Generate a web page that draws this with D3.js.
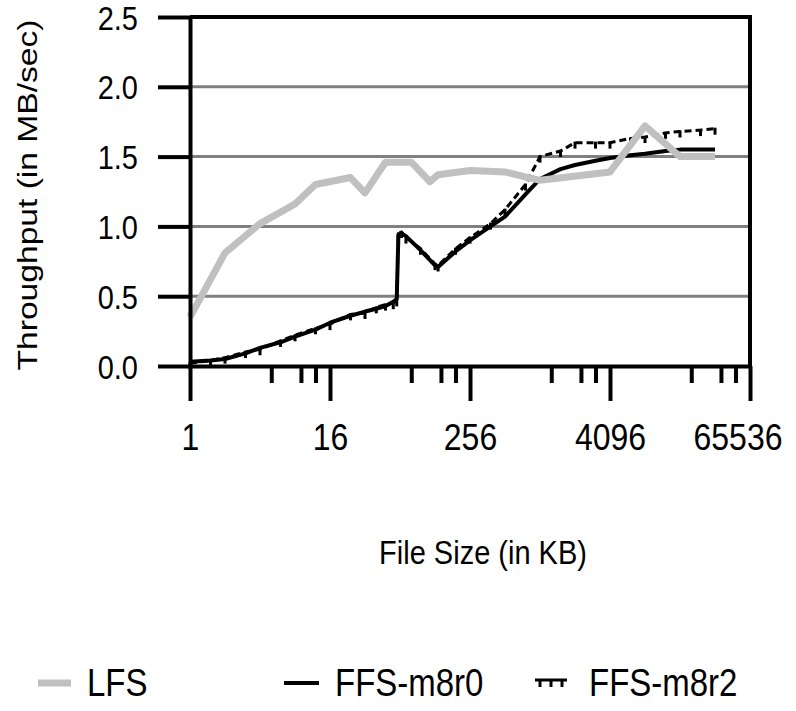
<!DOCTYPE html>
<html>
<head>
<meta charset="utf-8">
<script src="https://cdn.jsdelivr.net/npm/d3@7"></script>
<style>
body { margin: 0; background: #fff; }
text { font-family: "Liberation Sans", Arial, sans-serif; fill: #000; }
</style>
</head>
<body>
<div id="chart"></div>
<script>
// file sizes are in KB, throughput in MB/sec
const lfsSizes  = [1, 2, 4, 8, 12, 24, 32, 48, 80, 116, 136, 256, 512, 1024, 4096, 8192, 16384, 32768];
const lfsValues = [0.35, 0.81, 1.02, 1.16, 1.30, 1.35, 1.24, 1.46, 1.46, 1.32, 1.37, 1.40, 1.39, 1.33, 1.39, 1.72, 1.50, 1.50];

const ffsSizes   = [1, 1.5, 2, 3, 4, 6, 8, 12, 16, 24, 32, 40, 48, 56, 60, 62, 66, 72, 96, 128, 136, 192, 256, 384, 512, 768, 1024, 1536, 2048, 3072, 4096, 6144, 8192, 12288, 16384, 24576, 32768];
const m8r0Values = [0.03, 0.04, 0.05, 0.09, 0.13, 0.17, 0.21, 0.26, 0.31, 0.36, 0.39, 0.41, 0.43, 0.46, 0.48, 0.94, 0.95, 0.93, 0.83, 0.72, 0.71, 0.82, 0.90, 1.00, 1.07, 1.23, 1.34, 1.41, 1.44, 1.47, 1.49, 1.51, 1.52, 1.54, 1.55, 1.55, 1.55];
const m8r2Values = [0.02, 0.04, 0.06, 0.10, 0.12, 0.18, 0.22, 0.27, 0.30, 0.37, 0.38, 0.42, 0.44, 0.45, 0.47, 0.95, 0.96, 0.92, 0.84, 0.73, 0.72, 0.84, 0.92, 1.02, 1.12, 1.30, 1.50, 1.54, 1.60, 1.60, 1.60, 1.63, 1.64, 1.67, 1.68, 1.69, 1.70];

const yTicks = [0, 0.5, 1.0, 1.5, 2.0, 2.5];
const xMajorTicks = [1, 16, 256, 4096, 65536];
const xMinorTicks = [5, 9, 12, 80, 144, 192, 1280, 2304, 3072, 20480, 36864, 49152];
const legendNames = ["LFS", "FFS-m8r0", "FFS-m8r2"];

class LineChart {

	constructor() {
		this.margin = {top: 17, left: 190};
		this.width = 560;
		this.height = 349;
		this.stretch = 1.15; // the source picture's text is taller than it is wide
		this.initVis();
	}

	initVis() {
		let vis = this;

		vis.svg = d3.select("#chart").append("svg")
			.attr("width", 796)
			.attr("height", 711);

		vis.g = vis.svg.append("g")
			.attr("transform", `translate(${vis.margin.left},${vis.margin.top})`);

		vis.xScale = d3.scaleLog().base(2)
			.domain([1, 65536])
			.range([0, vis.width]);

		vis.yScale = d3.scaleLinear()
			.domain([0, 2.5])
			.range([vis.height, 0]);

		// gray gridlines
		vis.g.selectAll(".grid")
			.data(yTicks.filter(d => d > 0 && d < 2.5))
			.join("line")
			.attr("class", "grid")
			.attr("x1", 0).attr("x2", vis.width)
			.attr("y1", d => vis.yScale(d)).attr("y2", d => vis.yScale(d))
			.attr("stroke", "#808080")
			.attr("stroke-width", 3);

		// top and right border
		vis.g.append("path")
			.attr("d", `M0,0H${vis.width}V${vis.height}`)
			.attr("fill", "none")
			.attr("stroke", "#000")
			.attr("stroke-width", 4);

		vis.renderVis();
		vis.drawAxes();
		vis.drawLegend();
	}

	renderVis() {
		let vis = this;

		let line = d3.line()
			.x(d => vis.xScale(d[0]))
			.y(d => vis.yScale(d[1]));

		let m8r0 = d3.zip(ffsSizes, m8r0Values);
		let m8r2 = d3.zip(ffsSizes, m8r2Values);
		let lfs = d3.zip(lfsSizes, lfsValues);

		vis.g.append("path")
			.datum(m8r0)
			.attr("fill", "none")
			.attr("stroke", "#000")
			.attr("stroke-width", 4)
			.attr("stroke-linejoin", "round")
			.attr("d", line);

		vis.g.append("path")
			.datum(m8r2)
			.attr("fill", "none")
			.attr("stroke", "#000")
			.attr("stroke-width", 3)
			.attr("stroke-dasharray", "7,4")
			.attr("d", line);

		// little comb ticks of the m8r2 line style
		vis.g.selectAll(".comb")
			.data(m8r2)
			.join("line")
			.attr("class", "comb")
			.attr("x1", d => vis.xScale(d[0])).attr("x2", d => vis.xScale(d[0]))
			.attr("y1", d => vis.yScale(d[1]) - 1).attr("y2", d => vis.yScale(d[1]) + 6)
			.attr("stroke", "#000")
			.attr("stroke-width", 3);

		vis.g.append("path")
			.datum(lfs)
			.attr("fill", "none")
			.attr("stroke", "#c0c0c0")
			.attr("stroke-width", 7)
			.attr("stroke-linejoin", "round")
			.attr("d", line);
	}

	drawAxes() {
		let vis = this;

		vis.xAxisG = vis.g.append("g")
			.attr("transform", `translate(0,${vis.height})`)
			.call(d3.axisBottom(vis.xScale)
				.tickValues(xMajorTicks)
				.tickSize(35)
				.tickSizeOuter(0)
				.tickFormat(d3.format("d")));

		vis.xMinorG = vis.g.append("g")
			.attr("transform", `translate(0,${vis.height})`)
			.call(d3.axisBottom(vis.xScale)
				.tickValues(xMinorTicks)
				.tickSize(17)
				.tickFormat(""));
		vis.xMinorG.select(".domain").remove();

		vis.yAxisG = vis.g.append("g")
			.call(d3.axisLeft(vis.yScale)
				.tickValues(yTicks)
				.tickSize(32)
				.tickSizeOuter(0)
				.tickFormat(d3.format(".1f")));

		vis.g.selectAll(".domain, .tick line")
			.attr("stroke", "#000")
			.attr("stroke-width", 4);

		vis.xAxisG.selectAll("text")
			.attr("y", null).attr("dy", null)
			.attr("font-size", 32)
			.attr("transform", `translate(0,84) scale(1,${vis.stretch})`);

		// keep the last label inside the picture, like the source does
		vis.xAxisG.selectAll("text").each(function() {
			let box = this.getBBox();
			let tickX = vis.margin.left + vis.xScale(d3.select(this.parentNode).datum());
			let over = tickX + box.width / 2 - 782;
			if (over > 0) d3.select(this).attr("x", -over);
		});

		vis.yAxisG.selectAll("text")
			.attr("x", null).attr("dy", null)
			.attr("font-size", 29)
			.attr("transform", `translate(-52,12) scale(1,${vis.stretch})`);

		vis.g.selectAll(".tick text").attr("font-family", "Liberation Sans, Arial, sans-serif");

		// axis titles
		vis.svg.append("text")
			.attr("text-anchor", "middle")
			.attr("font-size", 29)
			.attr("transform", `translate(483,564) scale(1,${vis.stretch})`)
			.text("File Size (in KB)");

		vis.svg.append("text")
			.attr("text-anchor", "middle")
			.attr("font-size", 28)
			.attr("transform", `translate(37,195) rotate(-90) scale(1.2,1)`)
			.text("Throughput (in MB/sec)");
	}

	drawLegend() {
		let vis = this;
		let y = 683;
		let legend = vis.svg.append("g");

		legend.append("line")
			.attr("x1", 38).attr("x2", 71).attr("y1", y).attr("y2", y)
			.attr("stroke", "#c0c0c0").attr("stroke-width", 7);

		legend.append("line")
			.attr("x1", 284).attr("x2", 319).attr("y1", y).attr("y2", y)
			.attr("stroke", "#000").attr("stroke-width", 4);

		legend.append("line")
			.attr("x1", 535).attr("x2", 567).attr("y1", y - 3).attr("y2", y - 3)
			.attr("stroke", "#000").attr("stroke-width", 3);
		legend.selectAll(".legcomb")
			.data([540, 551, 562])
			.join("line")
			.attr("class", "legcomb")
			.attr("x1", d => d).attr("x2", d => d)
			.attr("y1", y - 3).attr("y2", y + 4)
			.attr("stroke", "#000").attr("stroke-width", 3);

		legend.selectAll(".legtext")
			.data(legendNames)
			.join("text")
			.attr("class", "legtext")
			.attr("font-size", 33)
			.attr("transform", (d, i) => `translate(${[87, 335, 589][i]},${y + 13}) scale(1,${vis.stretch})`)
			.text(d => d);
	}
}

let chart = new LineChart();
</script>
</body>
</html>
